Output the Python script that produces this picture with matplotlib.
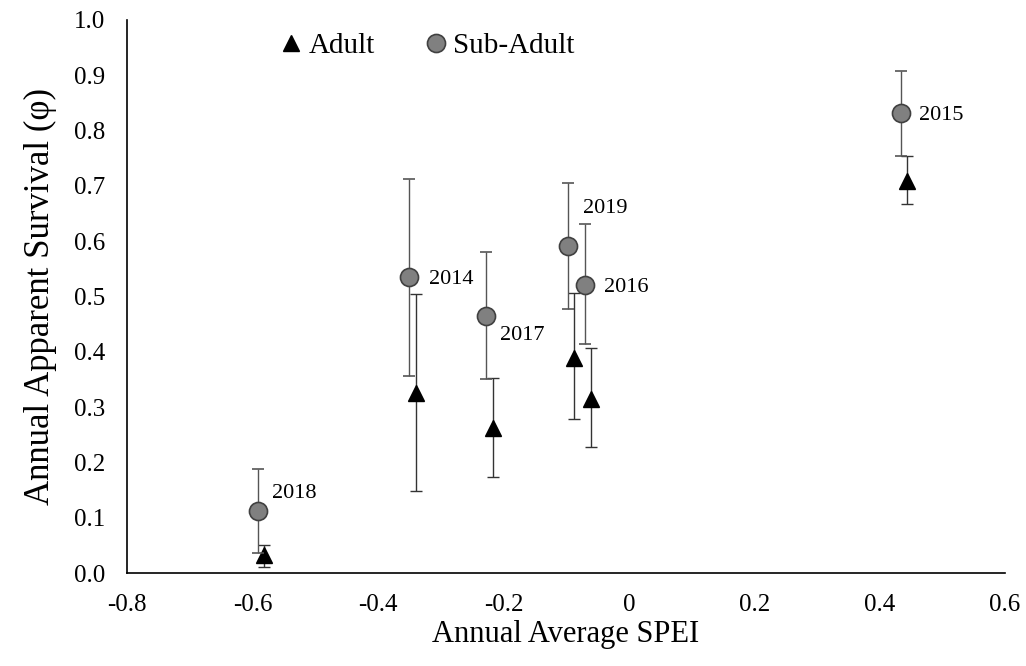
import matplotlib.pyplot as plt

plt.rcParams['font.family'] = ['Liberation Serif', 'DejaVu Serif']

years = ['2018', '2014', '2017', '2019', '2016', '2015']

# sub-adult
sub_x = [-0.591, -0.350, -0.227, -0.097, -0.070, 0.434]
sub_y = [0.112, 0.535, 0.465, 0.591, 0.521, 0.832]
sub_hi = [0.188, 0.712, 0.580, 0.705, 0.631, 0.908]
sub_lo = [0.036, 0.356, 0.351, 0.477, 0.414, 0.754]

# adult
ad_x = [-0.582, -0.340, -0.217, -0.088, -0.061, 0.444]
ad_y = [0.032, 0.325, 0.262, 0.389, 0.315, 0.709]
ad_hi = [0.051, 0.504, 0.352, 0.506, 0.407, 0.754]
ad_lo = [0.011, 0.148, 0.174, 0.278, 0.228, 0.667]

# label offsets (points) relative to sub-adult marker
offsets = [(10, 13), (14, -2), (10, -14), (11, 27), (14, -2), (13, -2)]

fig = plt.figure(figsize=(10.26, 6.66), dpi=100)
ax = fig.add_axes([0.124, 0.1396, 0.8555, 0.8304])

ad_err = [[y - l for y, l in zip(ad_y, ad_lo)], [h - y for y, h in zip(ad_y, ad_hi)]]
sub_err = [[y - l for y, l in zip(sub_y, sub_lo)], [h - y for y, h in zip(sub_y, sub_hi)]]

eb_ad = ax.errorbar(ad_x, ad_y, yerr=ad_err, fmt='^', color='black', ms=12, mec='black',
                    ecolor='#333333', elinewidth=1, capsize=4, capthick=1, zorder=3)
eb_sub = ax.errorbar(sub_x, sub_y, yerr=sub_err, fmt='o', color='#808080', ms=13,
                     mec='#404040', mew=1.2, ecolor='#555555', elinewidth=1, capsize=4,
                     capthick=1, zorder=4)

for yr, x, y, off in zip(years, sub_x, sub_y, offsets):
    ax.annotate(yr, (x, y), xytext=off, textcoords='offset points',
                fontsize=16, va='center', ha='left')

ax.set_xlim(-0.8, 0.6)
ax.set_ylim(0, 1.0)
ax.set_xticks([-0.8, -0.6, -0.4, -0.2, 0, 0.2, 0.4, 0.6])
ax.set_xticklabels(['-0.8', '-0.6', '-0.4', '-0.2', '0', '0.2', '0.4', '0.6'])
ax.set_yticks([i / 10 for i in range(11)])
ax.set_yticklabels([f'{i / 10:.1f}' for i in range(11)])
ax.tick_params(length=0, labelsize=18)
ax.tick_params(axis='x', pad=15)
ax.tick_params(axis='y', pad=16)

for s in ['top', 'right']:
    ax.spines[s].set_visible(False)
for s in ['left', 'bottom']:
    ax.spines[s].set_linewidth(1.2)

ax.set_xlabel('Annual Average SPEI', fontsize=22, labelpad=3)
ax.set_ylabel('Annual Apparent Survival (φ)', fontsize=25, labelpad=12)

ax.legend([eb_ad[0], eb_sub[0]], ['Adult', 'Sub-Adult'], loc='upper left',
          bbox_to_anchor=(0.14, 1.025), ncol=2, frameon=False, fontsize=21,
          handletextpad=0.1, columnspacing=1.6, handlelength=1.0)

fig.savefig('out.png', dpi=100)
